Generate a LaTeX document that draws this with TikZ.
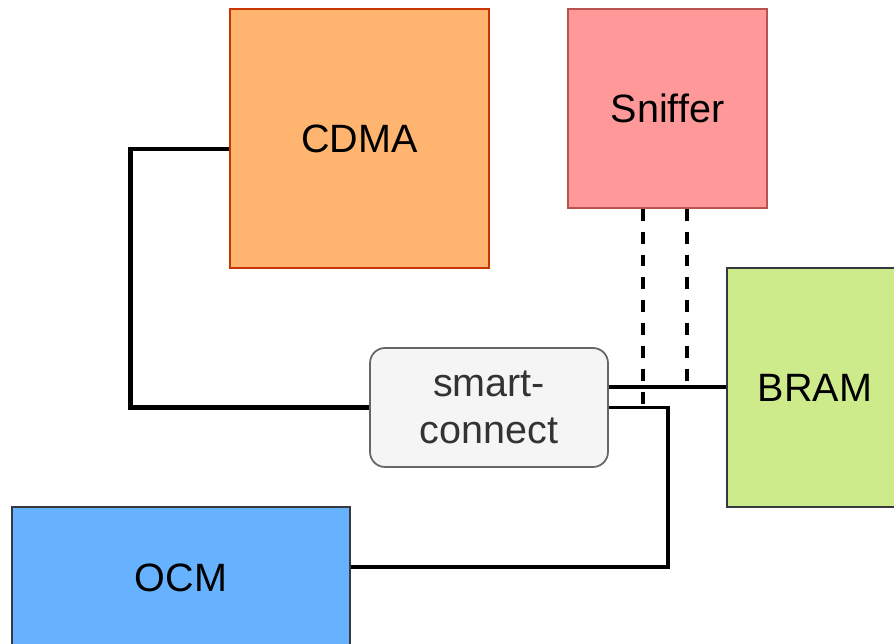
\documentclass[tikz,border=0pt]{standalone}
\usepackage{fontspec}
\setmainfont{Liberation Sans}
\usetikzlibrary{positioning}
\definecolor{cdmafill}{HTML}{FFB570}
\definecolor{cdmaline}{HTML}{C73500}
\definecolor{snifffill}{HTML}{FF9999}
\definecolor{sniffline}{HTML}{B85450}
\definecolor{bramfill}{HTML}{CDEB8B}
\definecolor{darkline}{HTML}{36393D}
\definecolor{ocmfill}{HTML}{66B2FF}
\definecolor{smartfill}{HTML}{F5F5F5}
\definecolor{smartline}{HTML}{666666}
\definecolor{smarttext}{HTML}{333333}
\tikzset{
	block/.style = {draw, line width=1pt, inner sep=0pt, align=center,
	 font=\fontsize{22.5}{27}\selectfont},
	bus/.style = {line width=2pt},
	widebus/.style = {line width=2.7pt},
	snoop/.style = {line width=2pt, dash pattern=on 6.8pt off 6.2pt}
	}

\begin{document}
\begin{tikzpicture}[x=0.02cm, y=-0.02cm]
\useasboundingbox (0,0) rectangle (894,644);

% NODES
% masters
\node (cdma) [block, fill=cdmafill, draw=cdmaline, minimum width=5.18cm,
	minimum height=5.18cm] at (359.5,138.5) {CDMA};
\node (ocm) [block, fill=ocmfill, draw=darkline, minimum width=6.76cm,
	minimum height=2.84cm] at (181,578) {OCM};
% interconnect
\node (smart) [block, fill=smartfill, draw=smartline, text=smarttext,
	rounded corners=0.3cm, minimum width=4.76cm, minimum height=2.38cm]
	at (489,407.5) {smart-\\connect};
% slave and monitor
\node (bram) [block, fill=bramfill, draw=darkline, minimum width=3.52cm,
	minimum height=4.78cm] at (815,387.5) {BRAM};
\node (sniffer) [block, fill=snifffill, draw=sniffline, minimum width=3.98cm,
	minimum height=3.98cm] at (667.5,108.5) {Sniffer};

% taps
\coordinate (cdmaport) at ([yshift=-0.21cm]cdma.west);
\coordinate (bramport) at ([yshift=0.41cm]smart.east);
\coordinate (ocmport) at ([yshift=0.22cm]ocm.east);
\coordinate (tapa) at ([xshift=-0.49cm]sniffer.south);
\coordinate (tapb) at ([xshift=0.39cm]sniffer.south);

%CONNECTIONS
\draw [widebus] (cdmaport) -- ++(-99,0) |- (smart.west);
\draw [bus] (bramport) -- (bramport -| bram.west);
\draw [bus] (smart.east) -- ++(59,0) |- (ocmport);
\draw [snoop] (tapa) -- (tapa |- smart.east);
\draw [snoop] (tapb) -- (tapb |- bramport);

\end{tikzpicture}
\end{document}
